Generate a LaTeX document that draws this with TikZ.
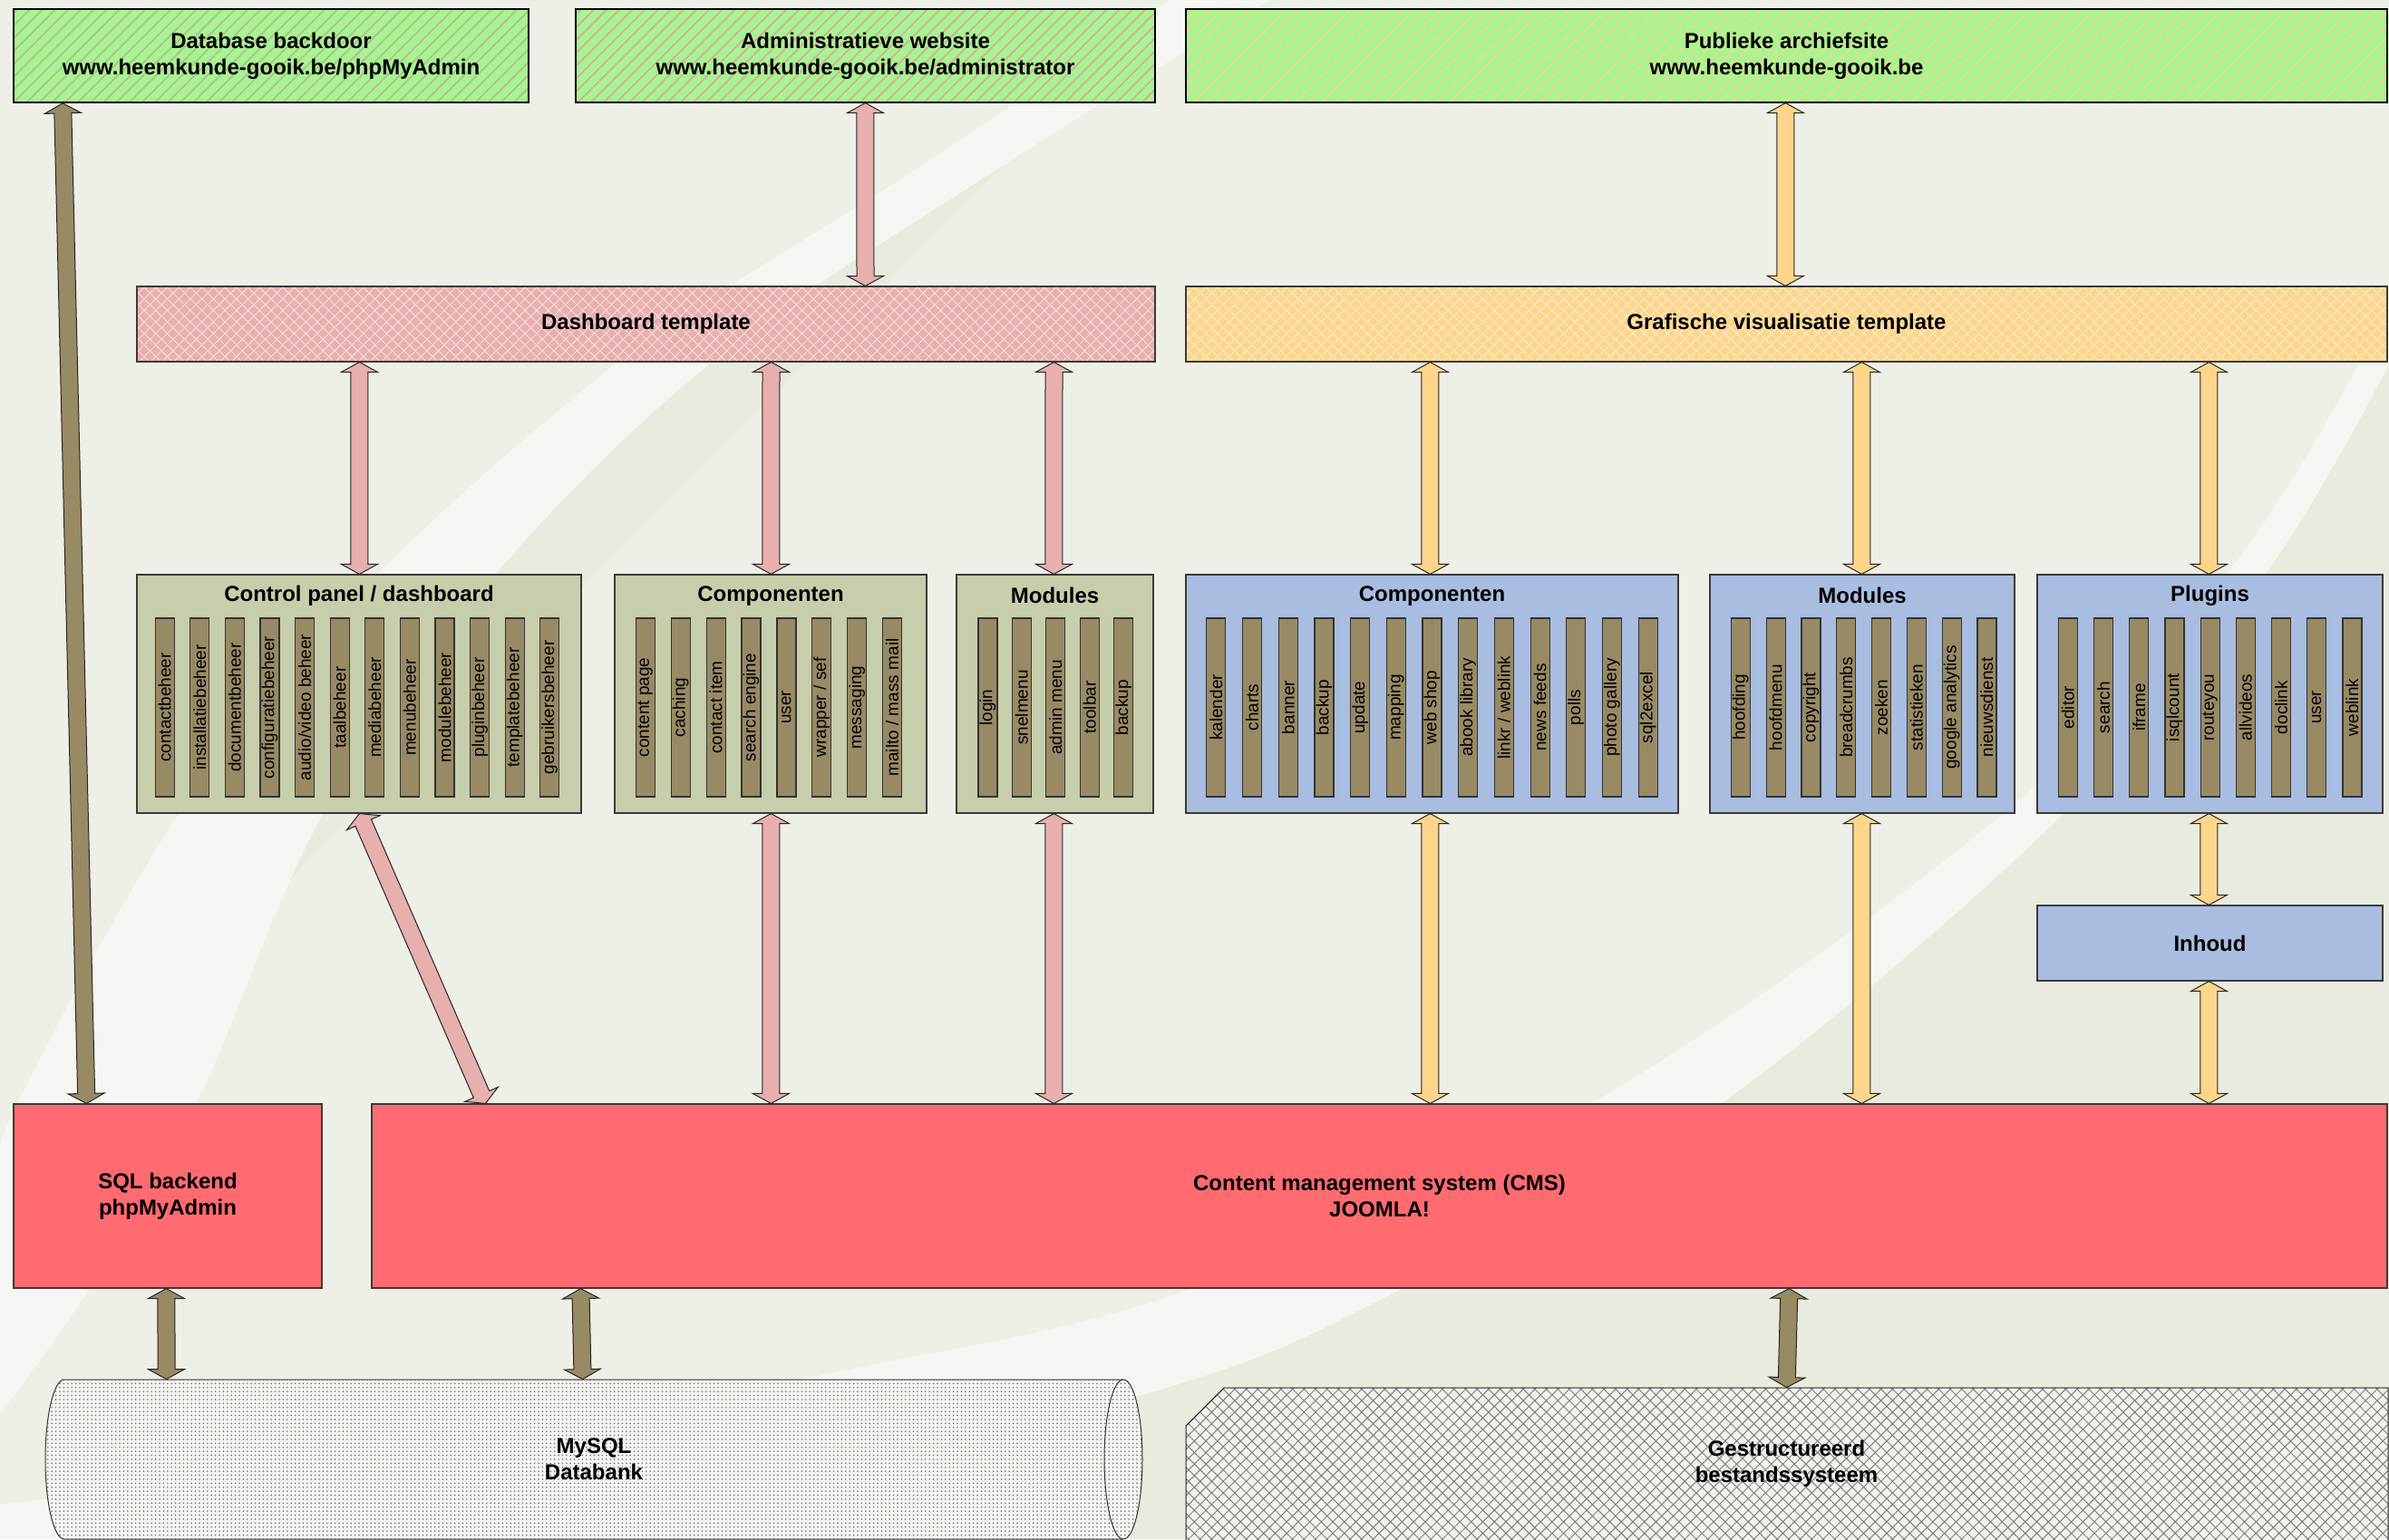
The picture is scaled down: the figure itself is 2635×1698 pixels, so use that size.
\documentclass[tikz,border=0pt]{standalone}
\usepackage{fontspec}
\setmainfont{Liberation Sans}
\usetikzlibrary{calc,fit,patterns.meta}
\definecolor{bgmid}{HTML}{EEEFE6}
\definecolor{bgside}{HTML}{E9EBDF}
\definecolor{bgband}{HTML}{F5F6F1}
\definecolor{grn}{HTML}{A6F590}
\definecolor{pnk}{HTML}{E7AFAD}
\definecolor{org}{HTML}{FDD58B}
\definecolor{olv}{HTML}{C7CEAB}
\definecolor{blu}{HTML}{A9BDE1}
\definecolor{brn}{HTML}{988A64}
\definecolor{rd}{HTML}{FF6B70}
\definecolor{edge}{HTML}{3A3A3A}
\definecolor{cylfill}{HTML}{F4F4F0}
\definecolor{fsfill}{HTML}{F2F2EC}

\tikzset{
  plain/.style={inner sep=0pt, align=center, font=\fontsize{12}{14.5}\selectfont\bfseries},
  box/.style={draw=edge, line width=0.6pt, inner sep=0pt},
  area/.style={inner sep=0pt},
  topbox/.style={box, draw=black, preaction={fill=grn},
    pattern={Lines[angle=45,distance=5pt,line width=0.9pt]}, pattern color=#1},
  tplbox/.style={box, preaction={fill=#1},
    pattern={Hatch[angle=45,distance=4.5pt,line width=0.5pt]}, pattern color=white!55!#1},
  midbox/.style={box, fill=#1},
  redbox/.style={box, fill=rd},
  boxtitle/.style={font=\fontsize{12}{14.5}\selectfont\bfseries, inner sep=0pt},
  bar/.style={rotate=90, fill=brn, draw=black!80, line width=0.6pt,
    minimum width=98.5pt, minimum height=10.5pt, inner sep=0pt,
    font=\fontsize{9.5}{11}\selectfont},
  conn/.style={draw=black!85, line width=0.5pt, fill=#1, line join=miter},
}

\newcommand\dblarrow[3]{%
  \draw[conn=#1] (#2)
   -- ($(#2)!5.5pt!(#3)!10pt!-90:(#3)$) -- ($(#2)!5.5pt!(#3)!4.75pt!-90:(#3)$)
   -- ($(#3)!5.5pt!(#2)!4.75pt!90:(#2)$) -- ($(#3)!5.5pt!(#2)!10pt!90:(#2)$)
   -- (#3)
   -- ($(#3)!5.5pt!(#2)!10pt!-90:(#2)$) -- ($(#3)!5.5pt!(#2)!4.75pt!-90:(#2)$)
   -- ($(#2)!5.5pt!(#3)!4.75pt!90:(#3)$) -- ($(#2)!5.5pt!(#3)!10pt!90:(#3)$)
   -- cycle;}
\newcommand\link[5]{%
  \coordinate (la) at ($(#2)+(#3,0)$);
  \coordinate (lb) at ($(#4)+(#5,0)$);
  \dblarrow{#1}{la}{lb}}

\begin{document}
\begin{tikzpicture}[x=0.5pt,y=-0.5pt]
\useasboundingbox (0,0) rectangle (2635,1698);
% background
\fill[bgmid] (0,0) rectangle (2635,1698);
\fill[bgside] (0,0) -- (1290,0) plot[smooth,tension=0.6] coordinates
  {(1290,0) (1000,193) (804,316) (682,398) (417,633) (198,897) (19,1217) (0,1290)} -- cycle;
\fill[bgside] (2635,402) plot[smooth,tension=0.6] coordinates
  {(2635,402) (2499,633) (2277,897) (1899,1217) (1548,1421) (1280,1533) (800,1640) (500,1698)}
  -- (2635,1698) -- cycle;
\fill[bgband] plot[smooth,tension=0.6] coordinates
  {(1290,0) (1000,193) (804,316) (682,398) (417,633) (198,897) (19,1217) (0,1290)}
  -- plot[smooth,tension=0.6] coordinates
  {(0,1560) (100,1420) (217,1217) (357,897) (547,633) (787,398) (1090,193) (1400,0)} -- cycle;
\fill[bgband] plot[smooth,tension=0.6] coordinates
  {(2635,330) (2602,402) (2456,633) (2210,897) (1756,1217) (1320,1420) (926,1513) (450,1600) (0,1660)}
  -- (0,1698) -- plot[smooth,tension=0.6] coordinates
  {(500,1698) (800,1640) (1280,1533) (1548,1421) (1899,1217) (2277,897) (2499,633) (2635,402)} -- cycle;

% top boxes
\node[topbox=olv!70!brn, fit={(15,10) (583,113)}] (db) {};
\node[plain] (dbL) at (db.center) {Database backdoor\\www.heemkunde-gooik.be/phpMyAdmin};
\node[topbox=pnk!85!brn, fit={(635,10) (1274,113)}] (adm) {};
\node[plain] (admL) at (adm.center) {Administratieve website\\www.heemkunde-gooik.be/administrator};
\node[topbox=org!80!olv, fit={(1308,10) (2633,113)}] (pub) {};
\node[plain] (pubL) at (pub.center) {Publieke archiefsite\\www.heemkunde-gooik.be};

% templates
\node[tplbox=pnk, fit={(151,316) (1274,399)}] (dash) {};
\node[plain] (dashL) at (dash.center) {Dashboard template};
\node[tplbox=org, fit={(1308,316) (2633,399)}] (graf) {};
\node[plain] (grafL) at (graf.center) {Grafische visualisatie template};

% middle boxes
\node[midbox=olv, fit={(151,634) (641,897)}] (cp) {};
\node[midbox=olv, fit={(678,634) (1022,897)}] (compL) {};
\node[midbox=olv, fit={(1055,634) (1272,897)}] (modL) {};
\node[midbox=blu, fit={(1308,634) (1851,897)}] (compR) {};
\node[midbox=blu, fit={(1886,634) (2222,897)}] (modR) {};
\node[midbox=blu, fit={(2247,634) (2628,897)}] (plug) {};
\node[midbox=blu, fit={(2247,999) (2628,1082)}] (inh) {};
\node[plain] (inhL) at (inh.center) {Inhoud};

\node[boxtitle] (cpT) at ($(cp.north)+(0,24)$) {Control panel / dashboard};
\node[boxtitle] (compLT) at ($(compL.north)+(0,24)$) {Componenten};
\node[boxtitle] (modLT) at ($(modL.north)+(0,24)$) {Modules};
\node[boxtitle] (compRT) at ($(compR.north)+(0,24)$) {Componenten};
\node[boxtitle] (modRT) at ($(modR.north)+(0,24)$) {Modules};
\node[boxtitle] (plugT) at ($(plug.north)+(0,24)$) {Plugins};

\foreach \t [count=\i from 0] in {contactbeheer,installatiebeheer,documentbeheer,configuratiebeheer,audio/video beheer,taalbeheer,mediabeheer,menubeheer,modulebeheer,pluginbeheer,templatebeheer,gebruikersbeheer}
  \node[bar] (cpb\i) at ({181.7+38.6*\i},780.5) {\t};
\foreach \t [count=\i from 0] in {content page,caching,contact item,search engine,user,wrapper / sef,messaging,mailto / mass mail}
  \node[bar] (clb\i) at ({711.8+38.9*\i},780.5) {\t};
\foreach \t [count=\i from 0] in {login,snelmenu,admin menu,toolbar,backup}
  \node[bar] (mlb\i) at ({1089.5+37.4*\i},780.5) {\t};
\foreach \t [count=\i from 0] in {kalender,charts,banner,backup,update,mapping,web shop,abook library,linkr / weblink,news feeds,polls,photo gallery,sql2excel}
  \node[bar] (crb\i) at ({1341.3+39.7*\i},780.5) {\t};
\foreach \t [count=\i from 0] in {hoofding,hoofdmenu,copyright,breadcrumbs,zoeken,statistieken,google analytics,nieuwsdienst}
  \node[bar] (mrb\i) at ({1919.8+38.8*\i},780.5) {\t};
\foreach \t [count=\i from 0] in {editor,search,iframe,isqlcount,routeyou,allvideos,doclink,user,weblink}
  \node[bar] (plb\i) at ({2280.8+39.2*\i},780.5) {\t};

% red boxes
\node[redbox, fit={(15,1218) (355,1421)}] (sql) {};
\node[plain] (sqlL) at (sql.center) {SQL backend\\phpMyAdmin};
\node[redbox, fit={(410,1218) (2633,1421)}] (cms) {};
\node[plain] (cmsL) at (cms.center) {Content management system (CMS)\\JOOMLA!};

% storage shapes
\path[draw=black!80, line width=0.5pt, preaction={fill=cylfill},
  pattern={Dots[distance=2.2pt,radius=0.45pt]}, pattern color=black!55]
  (71,1522) -- (1239,1522) arc[start angle=90, end angle=-90, x radius=10.5pt, y radius=44pt]
  -- (71,1698) arc[start angle=270, end angle=90, x radius=10.5pt, y radius=44pt] -- cycle;
\draw[black!80, line width=0.5pt] (1239,1522) arc[start angle=90, end angle=270, x radius=10.5pt, y radius=44pt];
\node[area, fit={(50,1522) (1260,1698)}] (mysql) {};
\node[plain] (mysqlL) at (mysql.center) {MySQL\\Databank};

\path[draw=black!85, line width=0.5pt, preaction={fill=fsfill},
  pattern={Hatch[angle=45,distance=4.5pt,line width=0.5pt]}, pattern color=black!50]
  (1350,1531) -- (2634,1531) -- (2634,1700) -- (1308,1700) -- (1308,1573) -- cycle;
\node[area, fit={(1308,1531) (2633,1698)}] (fs) {};
\node[plain] (fsL) at (fs.center) {Gestructureerd\\bestandssysteem};

% connectors
\link{brn}{db.south west}{55}{sql.north west}{81}
\link{pnk}{adm.south west}{320}{dash.north west}{804}
\link{org}{pub.south west}{662}{graf.north west}{662}
\link{pnk}{dash.south west}{246}{cp.north west}{246}
\link{pnk}{dash.south west}{700}{compL.north west}{173}
\link{pnk}{dash.south west}{1012}{modL.north west}{108}
\link{org}{graf.south west}{270}{compR.north west}{270}
\link{org}{graf.south west}{746}{modR.north west}{168}
\link{org}{graf.south west}{1129}{plug.north west}{190}
\link{pnk}{cp.south west}{246}{cms.north west}{126}
\link{pnk}{compL.south west}{173}{cms.north west}{441}
\link{pnk}{modL.south west}{108}{cms.north west}{753}
\link{org}{compR.south west}{270}{cms.north west}{1168}
\link{org}{modR.south west}{168}{cms.north west}{1644}
\link{org}{plug.south west}{190}{inh.north west}{190}
\link{org}{inh.south west}{190}{cms.north west}{2027}
\link{brn}{sql.south west}{169}{mysql.north west}{134}
\link{brn}{cms.south west}{231}{mysql.north west}{593}
\link{brn}{cms.south west}{1564}{fs.north west}{663}
\end{tikzpicture}
\end{document}
